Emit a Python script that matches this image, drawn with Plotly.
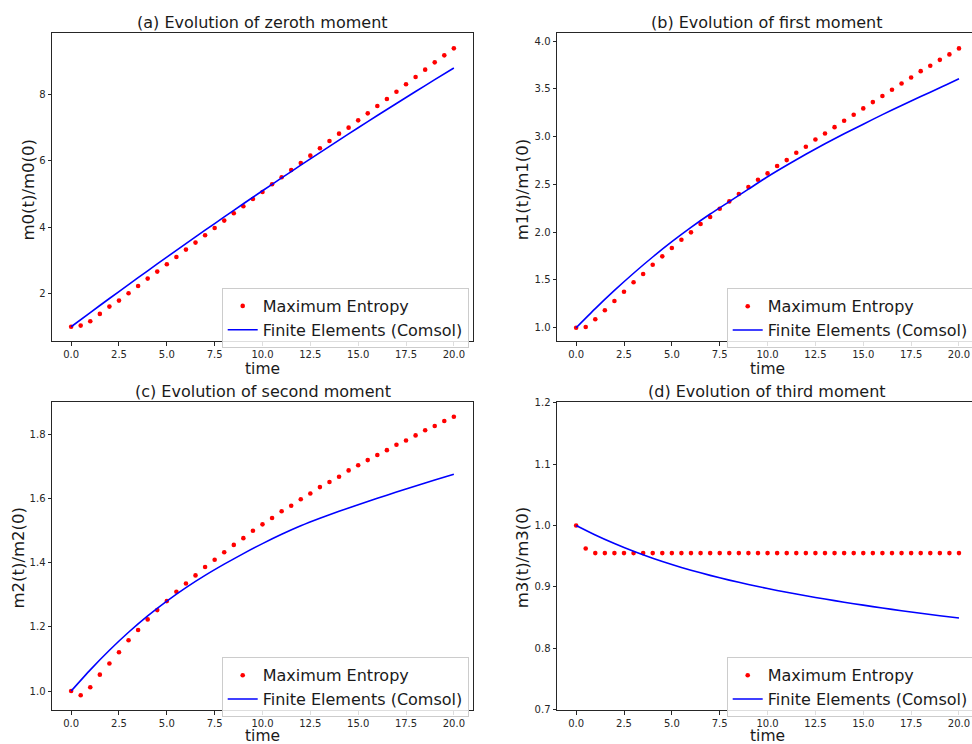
import plotly.graph_objects as go

W, H = 972, 744

# ---------------- data ----------------
t_me = [0.0, 0.5, 1.0, 1.5, 2.0, 2.5, 3.0, 3.5, 4.0, 4.5, 5.0, 5.5, 6.0, 6.5, 7.0, 7.5,
        8.0, 8.5, 9.0, 9.5, 10.0, 10.5, 11.0, 11.5, 12.0, 12.5, 13.0, 13.5, 14.0, 14.5,
        15.0, 15.5, 16.0, 16.5, 17.0, 17.5, 18.0, 18.5, 19.0, 19.5, 20.0]
t_fe = [0, 1, 2, 3, 4, 5, 6, 7, 8, 9, 10, 11, 12, 13, 14, 15, 16, 17, 18, 19, 20]

m0_me = [1.00, 1.035, 1.166, 1.387, 1.608, 1.789, 2.010, 2.231, 2.452, 2.663, 2.884,
         3.105, 3.327, 3.538, 3.759, 3.980, 4.201, 4.422, 4.633, 4.854, 5.065, 5.296,
         5.508, 5.729, 5.940, 6.161, 6.382, 6.603, 6.824, 7.005, 7.226, 7.437, 7.658,
         7.869, 8.090, 8.312, 8.533, 8.754, 8.975, 9.186, 9.397]
m0_fe = [1.000, 1.428, 1.852, 2.272, 2.688, 3.100, 3.508, 3.912, 4.313, 4.709, 5.101,
         5.489, 5.873, 6.254, 6.630, 7.002, 7.371, 7.735, 8.095, 8.452, 8.804]

m1_me = [1.000, 1.007, 1.088, 1.182, 1.279, 1.377, 1.475, 1.562, 1.659, 1.747, 1.834,
         1.921, 1.998, 2.085, 2.158, 2.245, 2.322, 2.399, 2.472, 2.548, 2.615, 2.692,
         2.754, 2.831, 2.894, 2.970, 3.033, 3.099, 3.165, 3.229, 3.295, 3.361, 3.424,
         3.490, 3.556, 3.619, 3.685, 3.741, 3.803, 3.860, 3.923]
m1_fe = [1.00, 1.20, 1.39, 1.57, 1.74, 1.90, 2.05, 2.19, 2.32, 2.45, 2.58, 2.70, 2.815,
         2.925, 3.03, 3.13, 3.23, 3.325, 3.42, 3.51, 3.605]

m2_me = [1.000, 0.987, 1.012, 1.051, 1.086, 1.121, 1.158, 1.190, 1.223, 1.252, 1.280,
         1.309, 1.335, 1.360, 1.386, 1.409, 1.432, 1.455, 1.476, 1.499, 1.519, 1.539,
         1.560, 1.577, 1.597, 1.615, 1.635, 1.651, 1.667, 1.687, 1.703, 1.719, 1.735,
         1.750, 1.767, 1.780, 1.796, 1.812, 1.825, 1.841, 1.854]
m2_fe = [1.000, 1.066, 1.127, 1.183, 1.234, 1.280, 1.322, 1.360, 1.395, 1.428, 1.459,
         1.488, 1.5145, 1.538, 1.5595, 1.580, 1.600, 1.6195, 1.6385, 1.657, 1.675]

m3_me = [1.000, 0.9625, 0.955, 0.955, 0.955, 0.955, 0.955, 0.955, 0.955, 0.955, 0.955,
         0.955, 0.955, 0.955, 0.955, 0.955, 0.955, 0.955, 0.955, 0.955, 0.955, 0.955,
         0.955, 0.955, 0.955, 0.955, 0.955, 0.955, 0.955, 0.955, 0.955, 0.955, 0.955,
         0.955, 0.955, 0.955, 0.955, 0.955, 0.955, 0.955, 0.955]
m3_fe = [1.000, 0.9845, 0.9705, 0.9578, 0.9465, 0.9363, 0.9271, 0.9187, 0.911, 0.9039,
         0.8973, 0.8912, 0.8855, 0.8801, 0.875, 0.8702, 0.8656, 0.8612, 0.857, 0.853, 0.8492]

x_ticks = [0, 2.5, 5, 7.5, 10, 12.5, 15, 17.5, 20]
x_tick_text = ["0.0", "2.5", "5.0", "7.5", "10.0", "12.5", "15.0", "17.5", "20.0"]
y0_ticks = [2, 4, 6, 8]
y0_text = ["2", "4", "6", "8"]
y1_ticks = [1.0, 1.5, 2.0, 2.5, 3.0, 3.5, 4.0]
y1_text = ["1.0", "1.5", "2.0", "2.5", "3.0", "3.5", "4.0"]
y2_ticks = [1.0, 1.2, 1.4, 1.6, 1.8]
y2_text = ["1.0", "1.2", "1.4", "1.6", "1.8"]
y3_ticks = [0.7, 0.8, 0.9, 1.0, 1.1, 1.2]
y3_text = ["0.7", "0.8", "0.9", "1.0", "1.1", "1.2"]

titles = ["(a) Evolution of zeroth moment", "(b) Evolution of first moment",
          "(c) Evolution of second moment", "(d) Evolution of third moment"]
ylabels = ["m0(t)/m0(0)", "m1(t)/m1(0)", "m2(t)/m2(0)", "m3(t)/m3(0)"]
xlabel = "time"
names = ["Maximum Entropy", "Finite Elements (Comsol)"]

# ---------------- figure ----------------
fig = go.Figure()
me_sets = [m0_me, m1_me, m2_me, m3_me]
fe_sets = [m0_fe, m1_fe, m2_fe, m3_fe]
for i in range(4):
    sfx = "" if i == 0 else str(i + 1)
    leg = "legend" if i == 0 else "legend" + str(i + 1)
    fig.add_trace(go.Scatter(x=t_me, y=me_sets[i], mode="markers", name=names[0],
                             marker=dict(color="#ff0000", size=4.6),
                             xaxis="x" + sfx, yaxis="y" + sfx, legend=leg))
    fig.add_trace(go.Scatter(x=t_fe, y=fe_sets[i], mode="lines", name=names[1],
                             line=dict(color="#0000ff", width=1.6, shape="spline", smoothing=0.6),
                             xaxis="x" + sfx, yaxis="y" + sfx, legend=leg))

def px(v):
    return v / W

def py(v):
    return 1 - v / H

base = dict(showline=True, linecolor="#262626", linewidth=1, ticks="outside", ticklen=3.5,
            tickwidth=1, tickcolor="#262626", showgrid=False, zeroline=False,
            tickfont=dict(size=10, color="#262626"))

xa_left = [px(52), px(473)]
xa_right = [px(557), 1.0]
ya_top = [py(341), py(33)]
ya_bot = [py(710), py(402.3)]

fig.update_layout(
    xaxis=dict(base, domain=xa_left, range=[-1, 21], anchor="y", mirror=True,
               tickvals=x_ticks, ticktext=x_tick_text),
    yaxis=dict(base, domain=ya_top, range=[0.57, 9.86], anchor="x", mirror=True,
               tickvals=y0_ticks, ticktext=y0_text),
    xaxis2=dict(base, domain=xa_right, range=[-1, 20.68], anchor="y2", mirror=True,
                tickvals=x_ticks, ticktext=x_tick_text),
    yaxis2=dict(base, domain=ya_top, range=[0.861, 4.084], anchor="x2", mirror=False,
                tickvals=y1_ticks, ticktext=y1_text),
    xaxis3=dict(base, domain=xa_left, range=[-1, 21], anchor="y3", mirror=True,
                tickvals=x_ticks, ticktext=x_tick_text),
    yaxis3=dict(base, domain=ya_bot, range=[0.941, 1.899], anchor="x3", mirror=True,
                tickvals=y2_ticks, ticktext=y2_text),
    xaxis4=dict(base, domain=xa_right, range=[-1, 20.68], anchor="y4", mirror=True,
                tickvals=x_ticks, ticktext=x_tick_text),
    yaxis4=dict(base, domain=ya_bot, range=[0.6995, 1.2005], anchor="x4", mirror=False,
                tickvals=y3_ticks, ticktext=y3_text),
)

leg_common = dict(xanchor="left", yanchor="top", bgcolor="rgba(255,255,255,0.85)",
                  bordercolor="#cccccc", borderwidth=1,
                  font=dict(size=16, color="#1a1a1a", family="DejaVu Sans"),
                  itemwidth=30, tracegroupgap=0)
fig.update_layout(
    legend=dict(leg_common, x=px(221.7), y=py(288)),
    legend2=dict(leg_common, x=px(726.7), y=py(288.3)),
    legend3=dict(leg_common, x=px(221.7), y=py(657.3)),
    legend4=dict(leg_common, x=px(726.7), y=py(657.3)),
)

annots = []
title_pos = [(262.5, 23), (767, 23), (262.5, 391), (767, 391)]
for (cx, cy), txt in zip(title_pos, titles):
    annots.append(dict(text=txt, x=px(cx), y=py(cy), xref="paper", yref="paper",
                       xanchor="center", yanchor="middle", showarrow=False,
                       font=dict(size=16, color="#1a1a1a")))
xl_pos = [(262.5, 369), (767, 369), (262.5, 736), (767, 736)]
for cx, cy in xl_pos:
    annots.append(dict(text=xlabel, x=px(cx), y=py(cy), xref="paper", yref="paper",
                       xanchor="center", yanchor="middle", showarrow=False,
                       font=dict(size=15.5, color="#1a1a1a")))
yl_pos = [(27.5, 190), (522.3, 190), (17.5, 558), (522.3, 558)]
for (cx, cy), txt in zip(yl_pos, ylabels):
    annots.append(dict(text=txt, x=px(cx), y=py(cy), xref="paper", yref="paper",
                       xanchor="center", yanchor="middle", showarrow=False, textangle=-90,
                       font=dict(size=16.5, color="#1a1a1a")))

fig.update_layout(
    annotations=annots,
    width=W, height=H,
    margin=dict(l=0, r=0, t=0, b=0, pad=0, autoexpand=False),
    paper_bgcolor="white", plot_bgcolor="white",
    font=dict(family="DejaVu Sans", color="#262626"),
    showlegend=True,
)

fig.write_html("out.html", config={"displayModeBar": False},
               post_script="document.body.style.margin='0px';document.body.style.overflow='hidden';")
